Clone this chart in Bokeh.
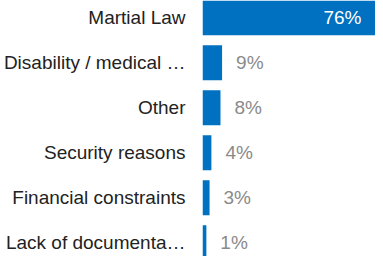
from bokeh.plotting import figure
from bokeh.models import ColumnDataSource, Range1d, FixedTicker
from bokeh.core.properties import value
from bokeh.embed import file_html
from bokeh.resources import INLINE

categories = ["Martial Law", "Disability / medical …", "Other", "Security reasons",
              "Financial constraints", "Lack of documenta…"]
values = [76, 8.6, 7.9, 3.9, 3.1, 1.7]
labels = ["76%", "9%", "8%", "4%", "3%", "1%"]

BAR = "#0070C0"
FONT = "Liberation Sans"

ys = list(range(len(categories)))

p = figure(width=375, height=256, output_backend="svg", toolbar_location=None,
           x_range=Range1d(0, max(values)), y_range=Range1d(5.305, -0.384),
           min_border_left=201, min_border_right=0, min_border_top=0, min_border_bottom=0)
p.outline_line_color = None
p.grid.visible = False
p.xaxis.visible = False
p.background_fill_color = "white"

src = ColumnDataSource(dict(y=ys, v=values, cat=categories, lab=labels))
p.hbar(y="y", right="v", left=0, height=0.78, source=src, color=BAR, line_color=None)

inside = [i for i, v in enumerate(values) if v > 20]
outside = [i for i, v in enumerate(values) if v <= 20]
src_in = ColumnDataSource(dict(y=[ys[i] for i in inside], v=[values[i] for i in inside],
                               lab=[labels[i] for i in inside]))
src_out = ColumnDataSource(dict(y=[ys[i] for i in outside], v=[values[i] for i in outside],
                                lab=[labels[i] for i in outside]))
p.text(x="v", y="y", text="lab", source=src_in, x_offset=-14, text_align="right",
       text_baseline="middle", text_color="white", text_font=value(FONT),
       text_font_size="19px")
p.text(x="v", y="y", text="lab", source=src_out, x_offset=14, text_align="left",
       text_baseline="middle", text_color="#8a8a8a", text_font=value(FONT),
       text_font_size="19px")

yax = p.yaxis[0]
yax.ticker = FixedTicker(ticks=ys)
yax.major_label_overrides = {i: c for i, c in zip(ys, categories)}
yax.axis_line_color = None
yax.major_tick_line_color = None
yax.minor_tick_line_color = None
yax.major_tick_out = 0
yax.major_tick_in = 0
yax.major_label_standoff = 17
yax.major_label_text_font = FONT
yax.major_label_text_font_size = "19px"
yax.major_label_text_color = "#222222"

open("out.html", "w").write(file_html(p, INLINE))
